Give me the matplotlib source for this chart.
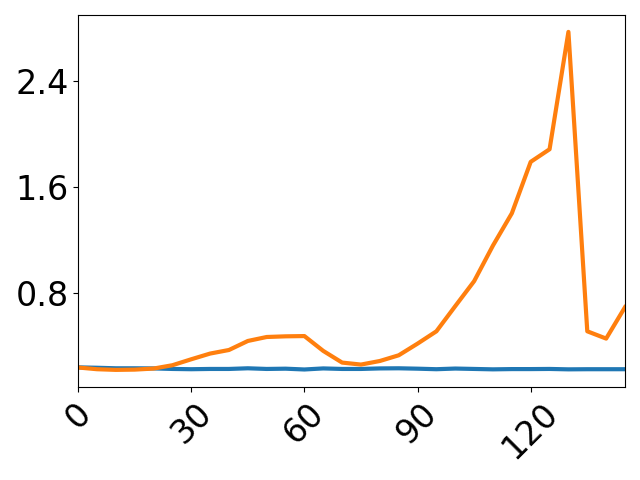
import matplotlib
matplotlib.use("Agg")
import matplotlib.pyplot as plt

x = list(range(0, 150, 5))
blue = [0.238, 0.235, 0.231, 0.231, 0.230, 0.226, 0.224, 0.226, 0.226, 0.231,
        0.226, 0.228, 0.222, 0.230, 0.226, 0.226, 0.230, 0.231, 0.228, 0.224,
        0.229, 0.226, 0.223, 0.225, 0.225, 0.226, 0.223, 0.224, 0.224, 0.224]
orange = [0.237, 0.224, 0.219, 0.221, 0.229, 0.254, 0.299, 0.342, 0.369, 0.437,
          0.467, 0.472, 0.474, 0.362, 0.274, 0.259, 0.286, 0.329, 0.417, 0.510,
          0.700, 0.888, 1.157, 1.400, 1.788, 1.883, 2.768, 0.510, 0.455, 0.692]

fig, ax = plt.subplots(figsize=(6.4, 4.8), dpi=100)
ax.plot(x, blue, color='#1f77b4', lw=3)
ax.plot(x, orange, color='#ff7f0e', lw=3)
ax.set_xlim(0, 145)
ax.set_xticks([0, 30, 60, 90, 120])
ax.set_yticks([0.8, 1.6, 2.4])
ax.tick_params(axis='both', labelsize=24)
plt.setp(ax.get_xticklabels(), rotation=45)
fig.tight_layout()
fig.savefig('out.png')
